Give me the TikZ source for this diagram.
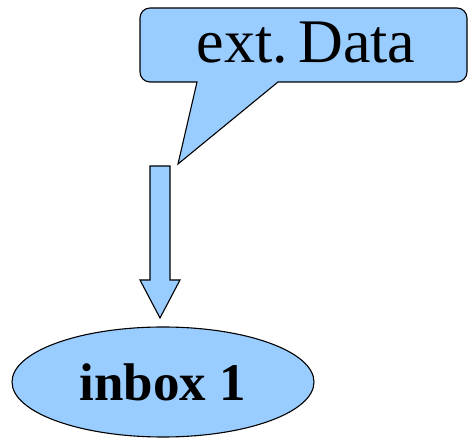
\documentclass[tikz,border=0pt]{standalone}
\usepackage{fontspec}
\setmainfont{Liberation Serif}
\usetikzlibrary{positioning,shapes.geometric}
\definecolor{boxblue}{HTML}{99CCFF}

\begin{document}
\begin{tikzpicture}[x=1pt,y=-1pt,
    blob/.style={draw=black, fill=boxblue, line width=1.1pt, line join=miter}]
    \useasboundingbox (0,0) rectangle (469,438);
    % callout
    \draw[blob, rounded corners=10pt] (140,8) -- (467,8) -- (467,82)
        [sharp corners] -- (278,82) -- (178,164) -- (197,82)
        [rounded corners=10pt] -- (140,82) -- cycle;
    \node (ext) at (306,43) {\fontsize{62}{66}\selectfont ext.\,Data};
    % arrow
    \draw[blob] (150,166) -- (170,166) -- (170,280) -- (180,280) -- (160,318)
        -- (140,280) -- (150,280) -- cycle;
    \node[ellipse, blob, minimum width=302pt, minimum height=110pt] (inbox) at (163,382)
        {\fontsize{53}{60}\selectfont\bfseries inbox 1};
\end{tikzpicture}
\end{document}
